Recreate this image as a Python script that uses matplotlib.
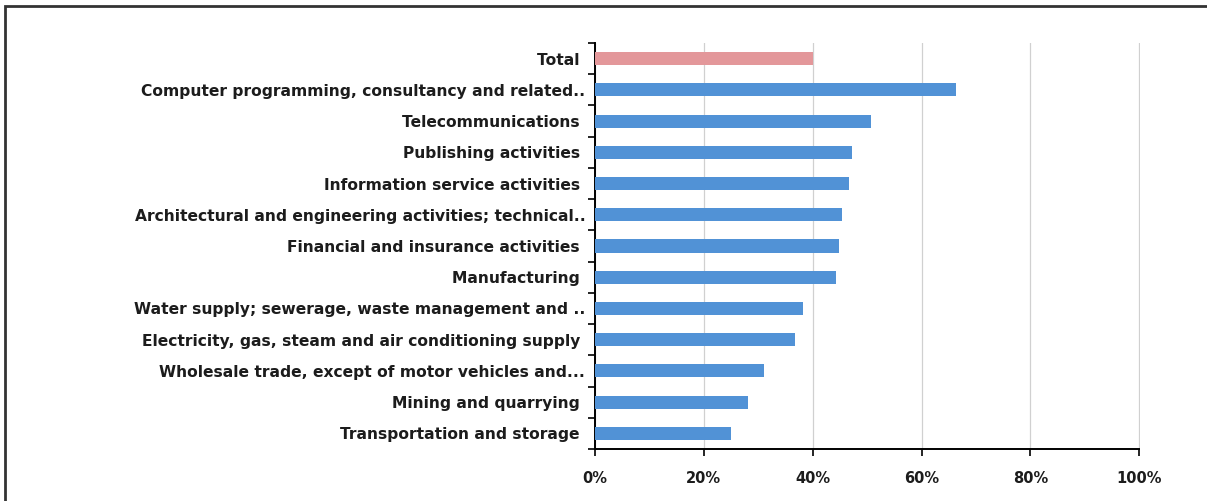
import matplotlib
matplotlib.use("Agg")
import matplotlib.pyplot as plt
from matplotlib.patches import Rectangle
from matplotlib.ticker import FixedLocator, FuncFormatter

categories = [
    "Total ",
    "Computer programming, consultancy and related..",
    "Telecommunications ",
    "Publishing activities ",
    "Information service activities ",
    "Architectural and engineering activities; technical..",
    "Financial and insurance activities ",
    "Manufacturing ",
    "Water supply; sewerage, waste management and ..",
    "Electricity, gas, steam and air conditioning supply ",
    "Wholesale trade, except of motor vehicles and...",
    "Mining and quarrying ",
    "Transportation and storage ",
]
values = [0.40, 0.664, 0.508, 0.473, 0.467, 0.453, 0.448, 0.442, 0.383, 0.367, 0.311, 0.281, 0.249]
bar_colors = ["#e3979a"] + ["#5192d6"] * 12
x_ticks = [0.0, 0.2, 0.4, 0.6, 0.8, 1.0]

plt.rcParams['font.family'] = ['DejaVu Sans']

fig = plt.figure(figsize=(12.07, 5.01), dpi=100)
ax = fig.add_axes([595/1207, 1-449/501, (1140-595)/1207, (449-43)/501])

n = len(categories)
ypos = list(range(n))[::-1]
ax.barh(ypos, values, height=0.42, color=bar_colors, zorder=3)

ax.set_xlim(0, 1.0015)
ax.set_ylim(-0.5, n - 0.5)

ax.xaxis.set_major_locator(FixedLocator(x_ticks))
ax.xaxis.set_major_formatter(FuncFormatter(lambda v, p: f"{v*100:.0f}%"))
ax.grid(axis='x', color='#d0d0d0', linewidth=0.9, zorder=0)

# y ticks between categories (Excel style), labels at centers
ax.yaxis.set_major_locator(FixedLocator([i - 0.5 for i in range(n + 1)]))
ax.yaxis.set_major_formatter(FuncFormatter(lambda v, p: ""))
ax.yaxis.set_minor_locator(FixedLocator(ypos))
ax.set_yticklabels(categories, minor=True)
ax.tick_params(axis='y', which='major', length=5, width=1.2, color='black', direction='out')
ax.tick_params(axis='y', which='minor', length=0, pad=7, labelsize=11.2)
for lab in ax.get_yticklabels(minor=True):
    lab.set_fontweight('bold')
    lab.set_color('#1c1c1c')

ax.tick_params(axis='x', which='major', length=5, width=1.2, color='black', direction='out', pad=11, labelsize=10.5)
for lab in ax.get_xticklabels():
    lab.set_fontweight('bold')
    lab.set_color('#1c1c1c')

for s in ['top', 'right']:
    ax.spines[s].set_visible(False)
ax.spines['left'].set_linewidth(1.4)
ax.spines['bottom'].set_linewidth(1.4)
ax.spines['bottom'].set_bounds(0, 1.0)

# outer frame (left and top visible)
fig.patches.append(Rectangle((5/1207, -0.1), 1.2, 1 - 6/501 + 0.1, transform=fig.transFigure,
                             fill=False, edgecolor='#333333', linewidth=2))

fig.savefig("out.png", dpi=100)
